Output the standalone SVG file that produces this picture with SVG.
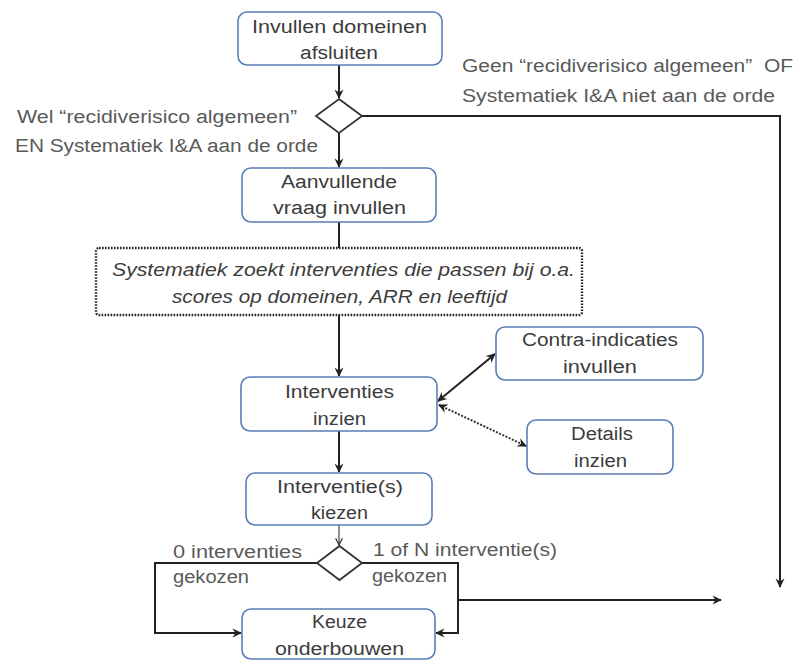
<svg xmlns="http://www.w3.org/2000/svg" width="795" height="661" viewBox="0 0 795 661">
<defs>
<marker id="ah" viewBox="0 0 10 10" refX="9" refY="5" markerWidth="5" markerHeight="5" orient="auto-start-reverse" markerUnits="strokeWidth">
<path d="M0.5,0.5 L10,5 L0.5,9.5 L3.5,5 z" fill="#222"/>
</marker>
<marker id="ahs" viewBox="0 0 10 10" refX="9" refY="5" markerWidth="7" markerHeight="7" orient="auto-start-reverse" markerUnits="strokeWidth">
<path d="M1,1 L9,5 L1,9" fill="none" stroke="#333" stroke-width="1.5"/>
</marker>
</defs>
<style>
.box{fill:#fff;stroke:#5b7db5;stroke-width:1.6}
.dot{fill:#fff;stroke:#222;stroke-width:2.4;stroke-dasharray:1.6 1.4}
.dia{fill:#fff;stroke:#333;stroke-width:1.8}
.t{font-family:"Liberation Sans",Arial,sans-serif;font-size:18px;fill:#3c3c3c;text-anchor:middle}
.ti{font-family:"Liberation Sans",Arial,sans-serif;font-size:18px;fill:#3c3c3c;text-anchor:middle;font-style:italic}
.l{font-family:"Liberation Sans",Arial,sans-serif;font-size:18px;fill:#5a5a5a}
.c{fill:none;stroke:#222;stroke-width:2}
.cd{fill:none;stroke:#333;stroke-width:2;stroke-dasharray:2 1.5}
</style>
<rect width="795" height="661" fill="#fff"/>
<g id="connectors">
<path class="c" d="M339,65 V98" marker-end="url(#ah)"/>
<path class="c" d="M339,133 V167" marker-end="url(#ah)"/>
<path class="c" d="M362,116 H780 V587" marker-end="url(#ah)"/>
<path class="c" d="M339,222 V248"/>
<path class="c" d="M339,315 V376" marker-end="url(#ah)"/>
<path class="c" d="M438,401 L495,354" marker-start="url(#ah)" marker-end="url(#ah)"/>
<path class="cd" d="M439,405 L526,446" marker-start="url(#ah)" marker-end="url(#ah)"/>
<path class="c" d="M339,431 V472" marker-end="url(#ah)"/>
<path fill="none" stroke="#444" stroke-width="1.2" d="M339,525 V545" marker-end="url(#ahs)"/>
<path class="c" d="M317,563 H155 V633 H241" marker-end="url(#ah)"/>
<path class="c" d="M362,563 H458 V633 H436" marker-end="url(#ah)"/>
<path class="c" d="M458,600 H721" marker-end="url(#ah)"/>
</g>
<g id="n1"><rect class="box" x="238" y="12" width="204" height="53" rx="9"/>
<text class="t" x="339.5" y="33" textLength="175" lengthAdjust="spacingAndGlyphs">Invullen domeinen</text>
<text class="t" x="339" y="59" textLength="78" lengthAdjust="spacingAndGlyphs">afsluiten</text></g>
<g id="d1"><polygon class="dia" points="339,99 362,116 339,133 316,116"/></g>
<g id="lbl-wel">
<text class="l" x="17" y="123" textLength="280" lengthAdjust="spacingAndGlyphs">Wel “recidiverisico algemeen”</text>
<text class="l" x="15" y="152" textLength="303" lengthAdjust="spacingAndGlyphs">EN Systematiek I&amp;A aan de orde</text></g>
<g id="lbl-geen">
<text class="l" x="462" y="72" textLength="331" lengthAdjust="spacingAndGlyphs" xml:space="preserve">Geen “recidiverisico algemeen”  OF</text>
<text class="l" x="462" y="102" textLength="313" lengthAdjust="spacingAndGlyphs">Systematiek I&amp;A niet aan de orde</text></g>
<g id="n2"><rect class="box" x="242" y="168" width="194" height="54" rx="9"/>
<text class="t" x="339" y="188" textLength="116" lengthAdjust="spacingAndGlyphs">Aanvullende</text>
<text class="t" x="339.5" y="214" textLength="133" lengthAdjust="spacingAndGlyphs">vraag invullen</text></g>
<g id="n3"><rect class="dot" x="96" y="248" width="486" height="67" rx="3"/>
<text class="ti" x="343.5" y="276" textLength="463" lengthAdjust="spacingAndGlyphs">Systematiek zoekt interventies die passen bij o.a.</text>
<text class="ti" x="339.5" y="303" textLength="335" lengthAdjust="spacingAndGlyphs">scores op domeinen, ARR en leeftijd</text></g>
<g id="n4"><rect class="box" x="241" y="377" width="196" height="54" rx="9"/>
<text class="t" x="339.5" y="398" textLength="109" lengthAdjust="spacingAndGlyphs">Interventies</text>
<text class="t" x="339.5" y="425" textLength="53" lengthAdjust="spacingAndGlyphs">inzien</text></g>
<g id="n5"><rect class="box" x="496" y="327" width="207" height="53" rx="9"/>
<text class="t" x="600" y="346" textLength="156" lengthAdjust="spacingAndGlyphs">Contra-indicaties</text>
<text class="t" x="600" y="373" textLength="74" lengthAdjust="spacingAndGlyphs">invullen</text></g>
<g id="n6"><rect class="box" x="527" y="420" width="146" height="54" rx="9"/>
<text class="t" x="602" y="440" textLength="62" lengthAdjust="spacingAndGlyphs">Details</text>
<text class="t" x="600.5" y="467" textLength="53" lengthAdjust="spacingAndGlyphs">inzien</text></g>
<g id="n7"><rect class="box" x="246" y="473" width="186" height="52" rx="9"/>
<text class="t" x="340" y="493" textLength="126" lengthAdjust="spacingAndGlyphs">Interventie(s)</text>
<text class="t" x="339.5" y="519" textLength="57" lengthAdjust="spacingAndGlyphs">kiezen</text></g>
<g id="d2"><polygon class="dia" points="339.5,546 362,563 339.5,580 317,563"/></g>
<g id="lbl-0">
<text class="l" x="173" y="558" textLength="129" lengthAdjust="spacingAndGlyphs">0 interventies</text>
<text class="l" x="173" y="583" textLength="76" lengthAdjust="spacingAndGlyphs">gekozen</text></g>
<g id="lbl-1">
<text class="l" x="373" y="556" textLength="184" lengthAdjust="spacingAndGlyphs">1 of N interventie(s)</text>
<text class="l" x="372" y="582" textLength="75" lengthAdjust="spacingAndGlyphs">gekozen</text></g>
<g id="n8"><rect class="box" x="242" y="609" width="193" height="50" rx="9"/>
<text class="t" x="339.5" y="628" textLength="55" lengthAdjust="spacingAndGlyphs">Keuze</text>
<text class="t" x="339.5" y="655" textLength="129" lengthAdjust="spacingAndGlyphs">onderbouwen</text></g>
</svg>
